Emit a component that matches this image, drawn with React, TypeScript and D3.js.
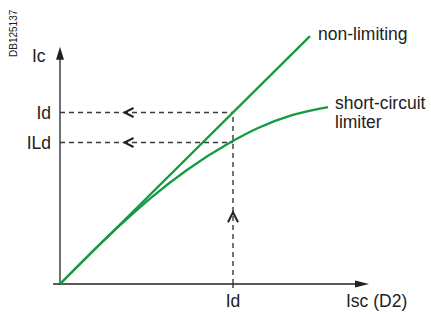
import React from "react";
import * as d3 from "d3";

// Values in relative current units (Id = 100)
const nonLimitingX = [0, 144.5];
const nonLimitingY = [0, 144.5];
const limiterX = [0, 23.1, 37.6, 53.8, 73.4, 98.3, 114.5, 134.1, 154.9];
const limiterY = [0, 23.3, 37.0, 51.3, 66.5, 82.5, 91.0, 98.5, 103.2];
const idValue = 100;
const ildValue = 82.5;
const yTickLabels = ["Id", "ILd"];
const yTickValues = [idValue, ildValue];
const xTickLabels = ["Id"];
const xTickValues = [idValue];
const xAxisMax = 178.6;
const yAxisMax = 138.4;
const xAxisMin = -4;

const GREEN = "#149a3f";
const DARK = "#222";
const DASH = "#3a3a3a";
const FONT = "Liberation Sans, Arial, sans-serif";

export default function App() {
  const W = 431, H = 314;
  const x = d3.scaleLinear().domain([0, 100]).range([60, 233]);
  const y = d3.scaleLinear().domain([0, 100]).range([284, 112.5]);

  const line = d3
    .line<[number, number]>()
    .x((d) => x(d[0]))
    .y((d) => y(d[1]));
  const curve = d3
    .line<[number, number]>()
    .x((d) => x(d[0]))
    .y((d) => y(d[1]))
    .curve(d3.curveMonotoneX);

  const nlPts: [number, number][] = nonLimitingX.map((v, i) => [v, nonLimitingY[i]]);
  const limPts: [number, number][] = limiterX.map((v, i) => [v, limiterY[i]]);

  const x0 = x(0), y0 = y(0);
  const xTip = x(xAxisMax), yTip = y(yAxisMax);
  const idX = x(xTickValues[0]);

  return (
    <svg width={W} height={H} style={{ display: "block", position: "absolute", left: 0, top: 0 }}>
      <rect width={W} height={H} fill="#fff" />
      {/* ID code */}
      <text
        transform="translate(17,57) rotate(-90)"
        fontFamily={FONT}
        fontSize={10}
        fill={DARK}
      >
        DB125137
      </text>

      {/* axes */}
      <line x1={x0} y1={y0 + 1} x2={x0} y2={yTip + 10} stroke={DARK} strokeWidth={1.3} />
      <path d={`M${x0},${yTip} L${x0 - 4},${yTip + 13} L${x0 + 4},${yTip + 13} Z`} fill={DARK} />
      <line x1={x(xAxisMin)} y1={y0} x2={xTip - 10} y2={y0} stroke={DARK} strokeWidth={1.3} />
      <path d={`M${xTip},${y0} L${xTip - 14},${y0 - 3.5} L${xTip - 14},${y0 + 3.5} Z`} fill={DARK} />
      <line x1={idX} y1={y0} x2={idX} y2={y0 + 4} stroke={DARK} strokeWidth={1.3} />

      {/* dashed guides */}
      {yTickValues.map((v, i) => (
        <g key={"h" + i}>
          <line x1={x0} y1={y(v)} x2={idX} y2={y(v)} stroke={DASH} strokeWidth={1.4} strokeDasharray="5,4" />
          <path
            d={`M${x(42.5)},${y(v) - 4.5} L${x(42.5) - 9},${y(v)} L${x(42.5)},${y(v) + 4.5}`}
            fill="none"
            stroke={DARK}
            strokeWidth={2}
          />
        </g>
      ))}
      <line x1={idX} y1={y0} x2={idX} y2={y(idValue)} stroke={DASH} strokeWidth={1.4} strokeDasharray="5,4" />
      <path
        d={`M${idX - 5},${y(36)} L${idX},${y(36) - 10} L${idX + 5},${y(36)}`}
        fill="none"
        stroke={DARK}
        strokeWidth={2}
      />

      {/* curves */}
      <path d={line(nlPts) || ""} fill="none" stroke={GREEN} strokeWidth={2.3} />
      <path d={curve(limPts) || ""} fill="none" stroke={GREEN} strokeWidth={2.3} />

      {/* labels */}
      <g fontFamily={FONT} fontSize={17.5} fill={DARK}>
        <text x={32} y={62}>Ic</text>
        {yTickValues.map((v, i) => (
          <text key={"yl" + i} x={51} y={y(v) + 6} textAnchor="end">
            {yTickLabels[i]}
          </text>
        ))}
        {xTickValues.map((v, i) => (
          <text key={"xl" + i} x={x(v)} y={307} textAnchor="middle">
            {xTickLabels[i]}
          </text>
        ))}
        <text x={346} y={307}>Isc (D2)</text>
        <text x={318} y={40}>non-limiting</text>
        <text x={335} y={109}>short-circuit</text>
        <text x={335} y={128}>limiter</text>
      </g>
    </svg>
  );
}
